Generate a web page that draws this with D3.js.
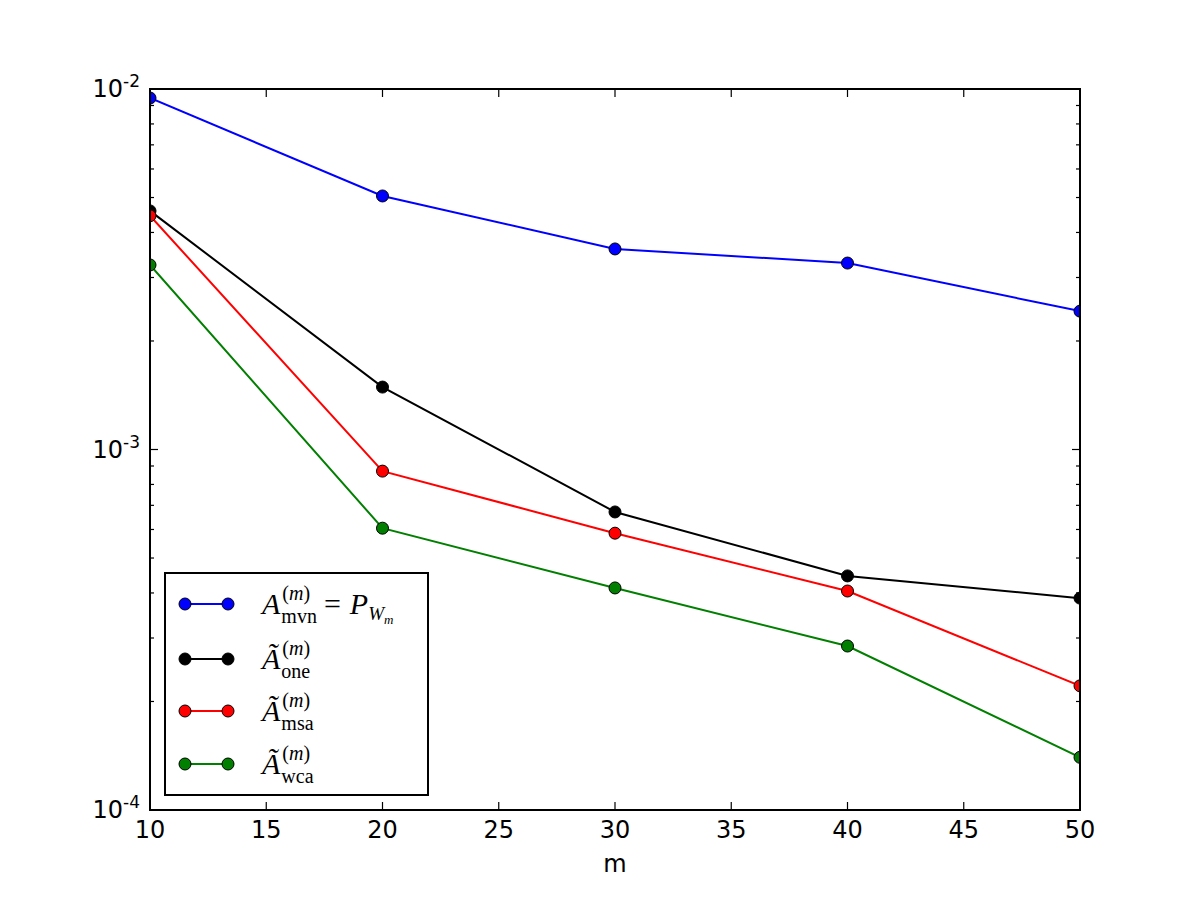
<!DOCTYPE html>
<html>
<head>
<meta charset="utf-8">
<script src="https://cdn.jsdelivr.net/npm/d3@7"></script>
<style>
  body { margin: 0; background: #fff; }
  svg { display: block; }
</style>
</head>
<body>
<div id="chart"></div>
<script>
// data
var mValues = [10, 20, 30, 40, 50];
var mvn = [0.00944, 0.00505, 0.0036, 0.00329, 0.00242];
var one = [0.00459, 0.00149, 0.000671, 0.000446, 0.000387];
var msa = [0.00445, 0.000871, 0.000586, 0.000405, 0.000221];
var wca = [0.00325, 0.000605, 0.000413, 0.000285, 0.00014];
var xTicks = [10, 15, 20, 25, 30, 35, 40, 45, 50];
var yMajor = [1e-4, 1e-3, 1e-2];
var yExponents = ["-4", "-3", "-2"];
var seriesNames = ["mvn", "one", "msa", "wca"];

var width = 1200, height = 900;
var margin = {left: 150, right: 120, top: 89, bottom: 90};

var svg = d3.select("#chart").append("svg")
  .attr("width", width).attr("height", height);

var x = d3.scaleLinear().domain([10, 50]).range([margin.left, width - margin.right]);
var y = d3.scaleLog().domain([1e-4, 1e-2]).range([height - margin.bottom, margin.top]);

var series = [
  {key: "mvn", values: mvn, color: "#0000ff"},
  {key: "one", values: one, color: "#000000"},
  {key: "msa", values: msa, color: "#ff0000"},
  {key: "wca", values: wca, color: "#007f00"}
];

// minor ticks for log axis
var yMinor = [];
[1e-4, 1e-3].forEach(function(d) {
  for (var k = 2; k <= 9; k++) yMinor.push(d * k);
});

var x0 = margin.left, x1 = width - margin.right;
var y0 = height - margin.bottom, y1 = margin.top;

var line = d3.line()
  .x(function(d, i) { return x(mValues[i]); })
  .y(function(d) { return y(d); });

// clip so markers at the edges get cut like matplotlib
svg.append("clipPath").attr("id", "clip")
  .append("rect").attr("x", x0).attr("y", y1).attr("width", x1 - x0).attr("height", y0 - y1);

var plot = svg.append("g").attr("clip-path", "url(#clip)");

series.forEach(function(s) {
  plot.append("path")
    .datum(s.values)
    .attr("d", line)
    .attr("fill", "none")
    .attr("stroke", s.color)
    .attr("stroke-width", 2);
  plot.selectAll(null)
    .data(s.values)
    .enter().append("circle")
    .attr("cx", function(d, i) { return x(mValues[i]); })
    .attr("cy", function(d) { return y(d); })
    .attr("r", 6)
    .attr("fill", s.color)
    .attr("stroke", "#000")
    .attr("stroke-width", 1);
});

// ticks (inward, all four sides)
var tk = svg.append("g").attr("stroke", "#000").attr("stroke-width", 1.2);
xTicks.forEach(function(t) {
  tk.append("line").attr("x1", x(t)).attr("x2", x(t)).attr("y1", y0).attr("y2", y0 - 8);
  tk.append("line").attr("x1", x(t)).attr("x2", x(t)).attr("y1", y1).attr("y2", y1 + 8);
});
yMajor.forEach(function(t) {
  tk.append("line").attr("x1", x0).attr("x2", x0 + 8).attr("y1", y(t)).attr("y2", y(t));
  tk.append("line").attr("x1", x1).attr("x2", x1 - 8).attr("y1", y(t)).attr("y2", y(t));
});
yMinor.forEach(function(t) {
  tk.append("line").attr("x1", x0).attr("x2", x0 + 4).attr("y1", y(t)).attr("y2", y(t));
  tk.append("line").attr("x1", x1).attr("x2", x1 - 4).attr("y1", y(t)).attr("y2", y(t));
});

// frame
svg.append("rect")
  .attr("x", x0).attr("y", y1).attr("width", x1 - x0).attr("height", y0 - y1)
  .attr("fill", "none").attr("stroke", "#000").attr("stroke-width", 2);

// tick labels
var labels = svg.append("g")
  .attr("font-family", "DejaVu Sans, sans-serif")
  .attr("fill", "#000");

labels.selectAll(".xl").data(xTicks).enter().append("text")
  .attr("x", function(d) { return x(d); })
  .attr("y", y0 + 28)
  .attr("text-anchor", "middle")
  .attr("font-size", 24)
  .text(function(d) { return d; });

yMajor.forEach(function(t, i) {
  var txt = labels.append("text")
    .attr("x", x0 - 10)
    .attr("y", y(t) + 8)
    .attr("text-anchor", "end")
    .attr("font-size", 24);
  txt.append("tspan").text("10");
  txt.append("tspan").attr("font-size", 17).attr("dy", -10).text(yExponents[i]);
});

labels.append("text")
  .attr("x", (x0 + x1) / 2)
  .attr("y", 872)
  .attr("text-anchor", "middle")
  .attr("font-size", 24)
  .text("m");

// legend
var lg = svg.append("g");
lg.append("rect")
  .attr("x", 165).attr("y", 573).attr("width", 263).attr("height", 222)
  .attr("fill", "#fff").attr("stroke", "#000").attr("stroke-width", 2);

// one text per entry, pieces placed as tspans
function piece(t, str, size, italic, px, py) {
  var sp = t.append("tspan")
    .attr("font-size", size)
    .attr("font-style", italic ? "italic" : "normal")
    .text(str);
  if (px != null) sp.attr("x", px);
  if (py != null) sp.attr("y", py);
  return sp.node().getComputedTextLength();
}

var legendY = [604, 659, 711, 764];
series.forEach(function(s, i) {
  var yy = legendY[i];
  lg.append("line").attr("x1", 185).attr("x2", 228).attr("y1", yy).attr("y2", yy)
    .attr("stroke", s.color).attr("stroke-width", 2);
  [185, 228].forEach(function(cx) {
    lg.append("circle").attr("cx", cx).attr("cy", yy).attr("r", 6)
      .attr("fill", s.color).attr("stroke", "#000").attr("stroke-width", 1);
  });
  var t = lg.append("text")
    .attr("font-family", "Liberation Serif, DejaVu Serif, serif")
    .attr("fill", "#000");
  var tx = 262;
  var wA = piece(t, i === 0 ? "A" : "\u00C3", 30, true, tx, yy + 10);
  var sx = tx + wA + 2;
  sx += piece(t, "(", 20, false, sx, yy - 4);
  sx += piece(t, "m", 20, true);
  sx += piece(t, ")", 20, false);
  var bx = tx + wA + 1;
  bx += piece(t, seriesNames[i], 20, false, bx, yy + 19);
  if (i === 0) {
    var ex = Math.max(sx, bx) + 7;
    ex += piece(t, "=", 30, false, ex, yy + 10) + 9;
    ex += piece(t, "P", 30, true, ex, yy + 10);
    ex += piece(t, "W", 19, true, ex, yy + 16);
    piece(t, "m", 13, true, ex, yy + 20);
  }
});
</script>
</body>
</html>
